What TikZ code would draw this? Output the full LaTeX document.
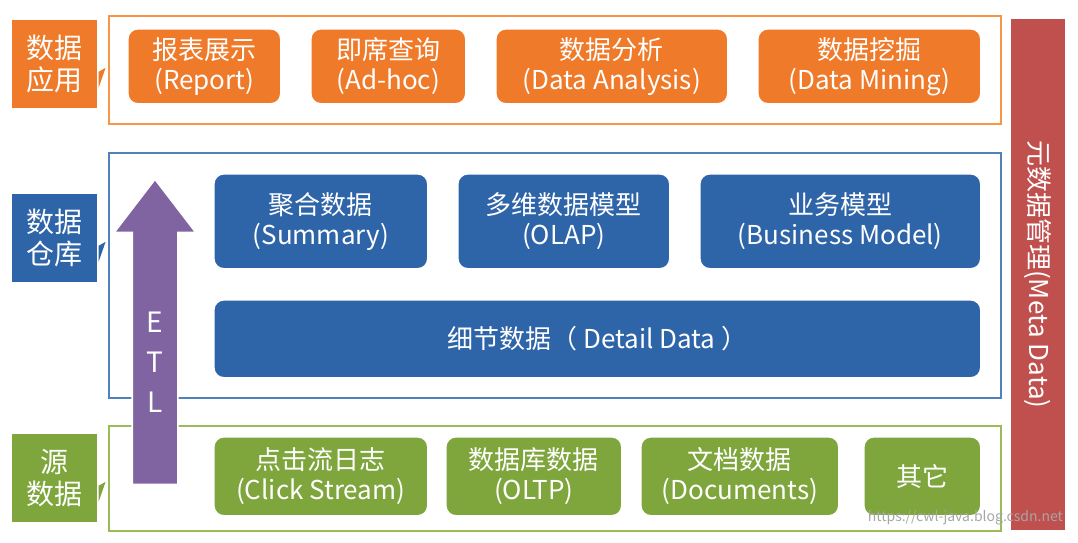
\documentclass[tikz,border=0pt]{standalone}
\usepackage{fontspec}
\setmainfont{Noto Sans CJK SC}
\usetikzlibrary{arrows.meta,positioning,shapes.arrows}
\definecolor{orgF}{HTML}{F79646}
\definecolor{orgB}{HTML}{EE7A2A}
\definecolor{bluF}{HTML}{4F81BD}
\definecolor{bluB}{HTML}{2E64A8}
\definecolor{grnF}{HTML}{9BBB59}
\definecolor{grnB}{HTML}{7EA63C}
\definecolor{redB}{HTML}{C0504D}
\definecolor{etlC}{HTML}{8064A2}
\begin{document}
\begin{tikzpicture}[x=0.5pt,y=-0.5pt]
	\tikzstyle{every node}=[font=\fontsize{13}{15}\selectfont,text=white,align=center];
	\tikzstyle{box}=[draw=white,line width=0.8pt,rounded corners=5pt,inner sep=0pt,anchor=north west];
	\tikzstyle{frm}=[draw,line width=1.2pt,anchor=north west,inner sep=0pt];
	\tikzstyle{lbl}=[draw=white,line width=0.8pt,anchor=north west,inner sep=0pt,minimum width=43.5,minimum height=45,font=\fontsize{14}{16}\selectfont];
	\useasboundingbox (0,0) rectangle (1078,542);
	% frames
	\node (app)  [frm,draw=orgF,minimum width=446,minimum height=54] at (108,15) {};
	\node (dw)   [frm,draw=bluF,minimum width=446,minimum height=122.5] at (108,152) {};
	\node (src)  [frm,draw=grnF,minimum width=446,minimum height=52.5] at (108,425) {};
	% side labels
	\foreach \n/\y/\c/\t in {lapp/18/orgB/数据\\应用, ldw/192/bluB/数据\\仓库, lsrc/432/grnB/源\\数据}{
		\node (\n) [lbl,fill=\c] at (10,\y) {\t};
		\fill[\c] ([yshift=-4]\n.east) -- ++(7,-4) -- ([yshift=-12]\n.east) -- cycle;
	}
	% application layer
	\node (rep) [box,fill=orgB,minimum width=76.5,minimum height=37.5] at (127,28) {报表展示\\(Report)};
	\node (adh) [box,fill=orgB,minimum width=77.5,minimum height=37.5] at (310,28) {即席查询\\(Ad-hoc)};
	\node (ana) [box,fill=orgB,minimum width=116,minimum height=37.5] at (495,28) {数据分析\\(Data Analysis)};
	\node (min) [box,fill=orgB,minimum width=111.5,minimum height=37.5] at (757,28) {数据挖掘\\(Data Mining)};
	% warehouse layer
	\node (sum)  [box,fill=bluB,minimum width=107,minimum height=47.5] at (213,173) {聚合数据\\(Summary)};
	\node (olap) [box,fill=bluB,minimum width=106,minimum height=47.5] at (457,173) {多维数据模型\\(OLAP)};
	\node (bus)  [box,fill=bluB,minimum width=140.5,minimum height=47.5] at (699,173) {业务模型\\(Business Model)};
	\node (det)  [box,fill=bluB,minimum width=383.5,minimum height=39] at (213,299) {细节数据（ Detail Data ）};
	% source layer
	\node (clk) [box,fill=grnB,minimum width=107,minimum height=39.5] at (213,436) {点击流日志\\(Click Stream)};
	\node (db)  [box,fill=grnB,minimum width=88,minimum height=39.5] at (445,436) {数据库数据\\(OLTP)};
	\node (doc) [box,fill=grnB,minimum width=99,minimum height=39.5] at (640,436) {文档数据\\(Documents)};
	\node (oth) [box,fill=grnB,minimum width=58.5,minimum height=39.5] at (863,436) {其它};
	% ETL
	\node (etl) [single arrow,fill=etlC,draw=white,line width=0.8pt,shape border rotate=90,
		minimum height=152.5,minimum width=40,single arrow head extend=9,single arrow tip angle=75,
		inner sep=11pt,anchor=tip] at (155,178) {};
	\node [font=\fontsize{14}{20}\selectfont,text=white] at (155,362) {E\\T\\L};
	% meta data
	\node (meta) [fill=redB,draw=white,anchor=north west,minimum width=27.5,minimum height=256,inner sep=0pt] at (1010,18) {};
	\node [rotate=-90,font=\fontsize{13}{15}\selectfont] at (meta.center) {元数据管理(Meta Data)};
	\node [text=gray!70,font=\fontsize{7}{8}\selectfont,anchor=south east] at (1070,532) {https://cwl-java.blog.csdn.net};
\end{tikzpicture}
\end{document}
